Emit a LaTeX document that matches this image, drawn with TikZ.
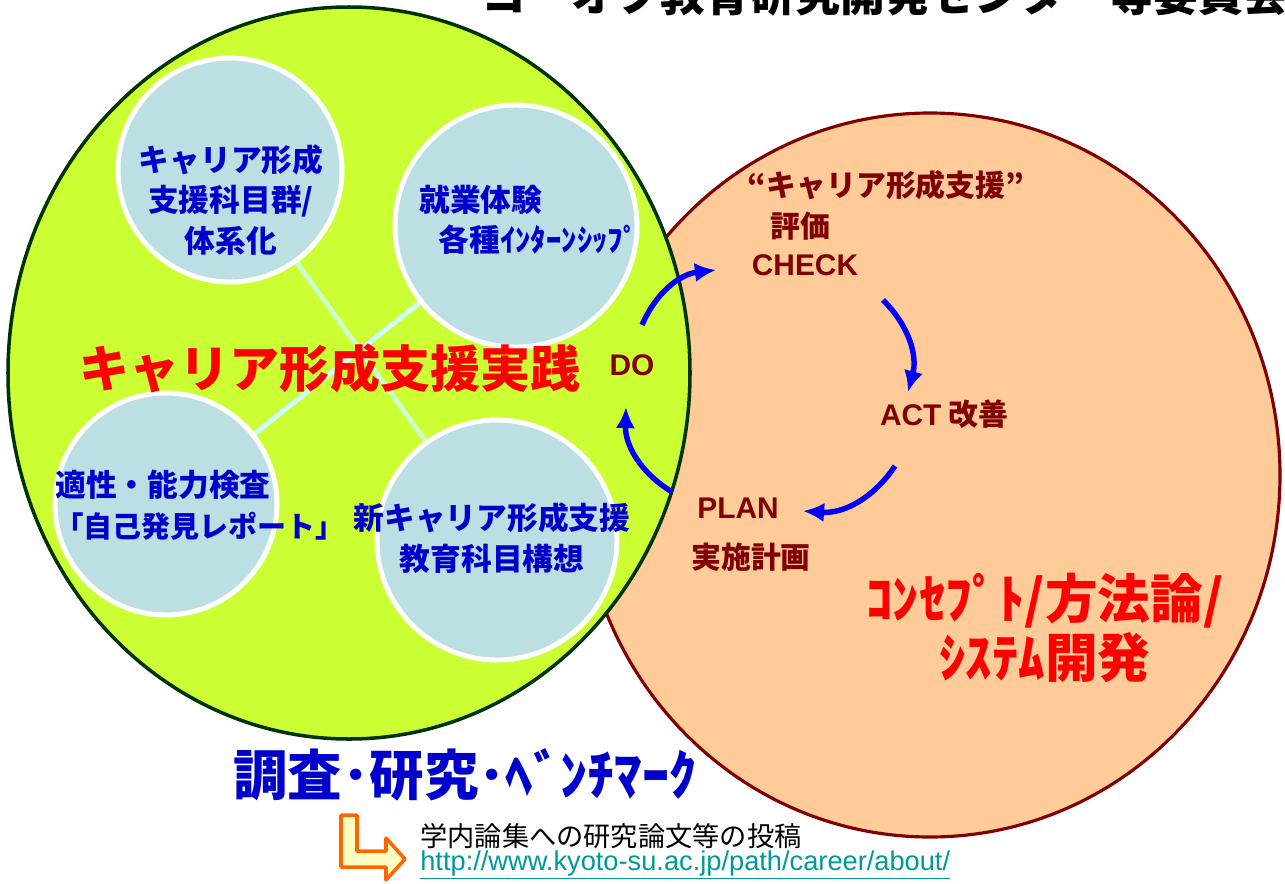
\documentclass[tikz,border=0pt]{standalone}
\usepackage{fontspec}
\setmainfont{Noto Sans CJK JP}
\newfontfamily\latin{Liberation Sans}
\usetikzlibrary{positioning, arrows.meta}
\tikzset{>=latex}

\definecolor{limeC}{HTML}{CCFF33}
\definecolor{rimGreen}{HTML}{003300}
\definecolor{peachC}{HTML}{FFCC99}
\definecolor{rimRed}{HTML}{800000}
\definecolor{bubbleC}{HTML}{BBDFE3}
\definecolor{textBlue}{HTML}{0000CC}
\definecolor{pdcaRed}{HTML}{800000}
\definecolor{arrowBlue}{HTML}{0000FF}
\definecolor{linkCyan}{HTML}{CCFFFF}
\definecolor{linkGreen}{HTML}{CCFFCC}
\definecolor{urlTeal}{HTML}{009999}
\definecolor{bentOrange}{HTML}{FF6600}

\begin{document}
\begin{tikzpicture}
    [
        x=0.02cm, y=-0.02cm,
        green_area/.style={draw=rimGreen, fill=limeC, line width=2pt},
        peach_area/.style={draw=rimRed, fill=peachC, line width=1.8pt},
        bubble/.style={circle, draw=white, fill=bubbleC, line width=2.8pt, inner sep=0pt},
        blue_txt/.style={text=textBlue, font=\fontsize{17.5}{23}\selectfont\bfseries, inner sep=0pt},
        pdca_txt/.style={text=pdcaRed, font=\fontsize{17}{20}\selectfont\bfseries, inner sep=0pt},
        link/.style={line width=2.8pt},
        cycle_arrow/.style={-{Latex[length=12pt,width=11pt]}, draw=arrowBlue, line width=3.1pt, bend left=30},
    ]

  \useasboundingbox (0,0) rectangle (1285,883);
  \clip (0,0) rectangle (1285,883);

  % heading, cut off at the top edge
  \node[anchor=base, font=\fontsize{25.5}{27}\selectfont\bfseries, inner sep=0pt] (head) at (885,11)
    {コーオプ教育研究開発センター等委員会};

  % the two large areas
  \draw[peach_area] (930,475) ellipse [x radius=350, y radius=362];
  \draw[green_area] (349,373) ellipse [x radius=341, y radius=366];

  \coordinate (p1) at (230,170);
  \coordinate (p2) at (516,226);
  \coordinate (p3) at (166,504);
  \coordinate (p4) at (497,540);

  \draw[link, linkGreen] (p1) -- (p4);
  \draw[link, linkCyan] (p3) -- (p2);

  \node[bubble, minimum size=4.48cm] (c1) at (p1) {};
  \node[bubble, minimum size=4.84cm] (c2) at (p2) {};
  \node[bubble, minimum size=4.44cm] (c3) at (p3) {};
  \node[bubble, minimum size=4.8cm] (c4) at (p4) {};

  \node[blue_txt, align=center] (t1) at (231,200) {キャリア形成\\支援科目群/\\体系化};
  \node[blue_txt, align=left, anchor=west] (t2) at (419,220)
    {就業体験\\\hspace{11pt}各種ｲﾝﾀｰﾝｼｯﾌﾟ};
  \node[blue_txt, align=left, anchor=west] (t3) at (55,505)
    {適性・能力検査\\\hspace{8pt}{\fontsize{16.5}{23}\selectfont ｢自己発見レポート｣}};
  \node[blue_txt, align=center] (t4) at (492,538) {新キャリア形成支援\\教育科目構想};

  \node[text=red, font=\fontsize{28.5}{30}\selectfont\bfseries, inner sep=0pt] (practice) at (330,368)
    {キャリア形成支援実践};

  % PDCA labels
  \node[pdca_txt] (do) at (632,365) {\latin DO};
  \node[pdca_txt] (eval) at (886,185) {“キャリア形成支援”};
  \node[pdca_txt] (hyoka) at (800,226) {評価};
  \node[pdca_txt] (check) at (805,265) {\latin CHECK};
  \node[pdca_txt] (act) at (944,414) {{\latin ACT} 改善};
  \node[pdca_txt] (plan) at (738,508) {\latin PLAN};
  \node[pdca_txt] (jisshi) at (751,557) {実施計画};

  \node[text=red, font=\fontsize{30}{34}\selectfont\bfseries, align=center, inner sep=0pt] (concept) at (1045,628)
    {ｺﾝｾﾌﾟﾄ/方法論/\\ｼｽﾃﾑ開発};

  \coordinate (a1s) at (642,325);
  \coordinate (a1e) at (716,270);
  \coordinate (a2s) at (883,300);
  \coordinate (a2e) at (908,392);
  \coordinate (a3s) at (895,466);
  \coordinate (a3e) at (803,511);
  \coordinate (a4s) at (672,492);
  \coordinate (a4e) at (626,407);

  \draw[cycle_arrow] (a1s) to (a1e);
  \draw[cycle_arrow] (a2s) to (a2e);
  \draw[cycle_arrow] (a3s) to (a3e);
  \draw[cycle_arrow] (a4s) to (a4e);

  % research line and link
  \node[text=textBlue, font=\fontsize{31}{33}\selectfont\bfseries, inner sep=0pt] (bench) at (465,775)
    {調査･研究･ﾍﾞﾝﾁﾏｰｸ};

  \draw[draw=bentOrange, fill=yellow!25, line width=2pt, line join=round]
    (341,815) -- (357,815) -- (357,851) -- (386,851) -- (386,838) -- (405,859)
    -- (386,880) -- (386,867) -- (341,867) -- cycle;

  \node[anchor=base west, font=\fontsize{15.5}{17}\selectfont, inner sep=0pt] (paper) at (420,846)
    {学内論集への研究論文等の投稿};
  \node[anchor=base west, text=urlTeal, font=\latin\fontsize{15.5}{17}\selectfont, inner sep=0pt] (url) at (420,870)
    {\underline{http://www.kyoto-su.ac.jp/path/career/about/}};
\end{tikzpicture}
\end{document}
